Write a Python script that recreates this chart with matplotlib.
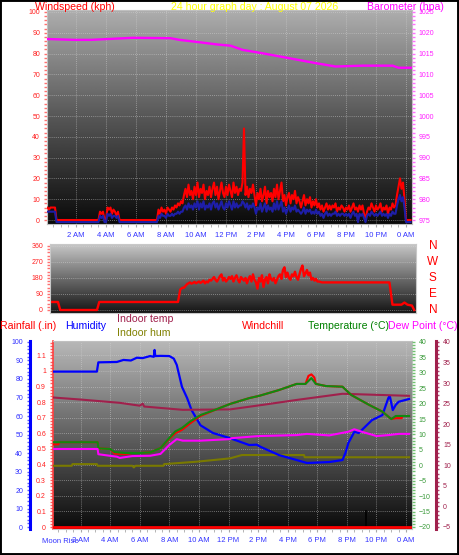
import matplotlib
matplotlib.use('Agg')
import matplotlib.pyplot as plt
import numpy as np
from matplotlib.patches import Rectangle
from matplotlib.ticker import MultipleLocator, FuncFormatter
from matplotlib.transforms import blended_transform_factory

plt.rcParams['font.family'] = ['Liberation Sans', 'DejaVu Sans']

W, H = 459, 555

# ---------------- data ----------------
hour_ticks = [2, 4, 6, 8, 10, 12, 14, 16, 18, 20, 22, 24]
hour_labels = ['2 AM', '4 AM', '6 AM', '8 AM', '10 AM', '12 PM',
               '2 PM', '4 PM', '6 PM', '8 PM', '10 PM', '0 AM']

# wind samples every 6 minutes (0.0 .. 24.3 h)
wind_hours = np.round(np.arange(0, 24.35, 0.1), 1)
wind_gust = [
    6, 6, 5, 6, 6, 6, 6, 0, 0, 0,
    0, 0, 0, 0, 0, 0, 0, 0, 0, 0,
    0, 0, 0, 0, 0, 0, 0, 0, 0, 0,
    0, 0, 0, 0, 0, 0, 4, 3, 4, 0,
    0, 6, 5, 6, 3, 5, 4, 2, 4, 0,
    0, 0, 0, 0, 0, 0, 0, 0, 0, 0,
    0, 0, 0, 0, 0, 0, 0, 0, 0, 0,
    0, 0, 0, 0, 0, 5, 3, 6, 4, 5,
    3, 6, 5, 4, 6, 5, 7, 6, 8, 7,
    9, 8, 12, 15, 11, 17, 12, 14, 10, 16,
    12, 18, 11, 15, 13, 17, 10, 14, 12, 16,
    11, 15, 18, 12, 16, 10, 14, 18, 13, 11,
    16, 12, 17, 14, 11, 18, 13, 16, 12, 15,
    14, 18, 44, 12, 16, 11, 15, 13, 17, 12,
    7, 13, 10, 15, 9, 12, 16, 8, 14, 11,
    13, 9, 15, 11, 17, 10, 14, 18, 9, 12,
    7, 11, 13, 8, 12, 10, 14, 8, 11, 9,
    6, 9, 12, 7, 10, 8, 11, 6, 9, 7,
    10, 6, 8, 5, 7, 4, 6, 8, 5, 7,
    5, 7, 6, 8, 4, 6, 5, 7, 6, 4,
    6, 5, 7, 4, 6, 8, 5, 6, 4, 7,
    5, 7, 3, 0, 4, 6, 5, 8, 6, 4,
    7, 5, 6, 8, 4, 6, 5, 7, 3, 6,
    5, 8, 6, 7, 12, 16, 20, 15, 18, 10,
    0, 0, 0, 0,
]
wind_avg = [
    4, 4, 4, 4, 4, 4, 4, -1, -1, -1,
    -1, -1, -1, -1, -1, -1, -1, -1, -1, -1,
    -1, -1, -1, -1, -1, -1, -1, -1, -1, -1,
    -1, -1, -1, -1, -1, -1, 2, 1, 2, -1,
    -1, 3, 2, 3, 1, 2, 2, 1, 2, -1,
    -1, -1, -1, -1, -1, -1, -1, -1, -1, -1,
    -1, -1, -1, -1, -1, -1, -1, -1, -1, -1,
    -1, -1, -1, -1, -1, 2, 1, 3, 2, 2,
    1, 3, 2, 2, 3, 2, 3, 3, 4, 3,
    4, 4, 6, 7, 5, 8, 6, 7, 5, 8,
    6, 9, 5, 8, 6, 9, 5, 7, 6, 8,
    5, 8, 9, 6, 8, 5, 7, 9, 6, 5,
    8, 6, 9, 7, 5, 9, 6, 8, 6, 7,
    7, 9, 8, 6, 8, 5, 7, 6, 8, 6,
    3, 6, 5, 8, 4, 6, 8, 4, 7, 5,
    6, 4, 8, 5, 9, 5, 7, 9, 4, 6,
    3, 5, 7, 4, 6, 5, 7, 4, 5, 4,
    3, 4, 6, 3, 5, 4, 5, 3, 4, 3,
    5, 3, 4, 2, 3, 1, 3, 4, 2, 3,
    2, 3, 3, 4, 2, 3, 2, 3, 3, 2,
    3, 2, 3, 1, 3, 4, 2, 3, -1, 3,
    2, 3, 1, -1, 2, 3, 2, 4, 3, 2,
    3, 2, 3, 4, 2, 3, 2, 3, 1, 3,
    2, 4, 3, 3, 7, 10, 12, 9, 11, 6,
    -1, -1, -1, -1,
]

baro_hours = [0.1, 1.9, 3.0, 5.8, 8.3, 8.9, 10.3, 11.4, 12.3, 13.1, 14.4,
              16.2, 18.0, 19.3, 21.1, 23.1, 23.5, 24.4]
baro_hpa = [1018.5, 1018.3, 1018.3, 1018.8, 1018.7, 1018.3, 1017.7, 1017.2,
            1016.9, 1015.9, 1015.1, 1013.9, 1012.7, 1011.9, 1012.1, 1012.1,
            1011.6, 1011.6]

dir_hours = ([0.07, 0.6, 0.75, 3.2, 3.35, 8.6, 8.75, 8.9]
             + list(np.round(np.arange(9.0, 17.95, 0.1), 1))
             + [18.0, 18.2, 22.7, 22.9, 23.5, 23.7, 23.9, 24.2, 24.35])
dir_deg = ([45, 45, 0, 0, 45, 45, 115, 125]
           + [125, 135, 145, 150, 155, 148, 152, 158, 150, 155,
              160, 152, 158, 165, 150, 160, 155, 170, 165, 175,
              185, 170, 160, 175, 190, 200, 165, 180, 160, 170,
              185, 175, 190, 160, 180, 195, 170, 155, 185, 175,
              165, 180, 150, 175, 190, 160, 200, 170, 155, 120,
              180, 160, 195, 130, 170, 185, 150, 200, 175, 165,
              180, 150, 170, 190, 200, 175, 225, 240, 185, 210,
              180, 170, 200, 190, 215, 185, 170, 200, 230, 250,
              190, 205, 225, 195, 210, 170, 180, 165, 175, 160]
           + [160, 155, 155, 30, 30, 42, 30, 25, 0])

hum_hours = [0.13, 3.1, 3.2, 4.45, 4.9, 5.4, 5.8, 6.2, 6.7, 6.95, 7.0, 7.05,
             7.4, 8.0, 8.3, 8.5, 8.85, 9.2, 9.5, 10.1, 10.95, 12.1, 13.4,
             13.9, 14.2, 15.4, 16.6, 17.3, 18.8, 19.7, 19.9, 20.1, 20.5,
             20.8, 21.7, 22.4, 22.8, 22.9, 23.1, 23.3, 23.5, 24.2]
humidity = [84, 84, 89, 89.2, 90.3, 90, 91.5, 91.3, 92.4, 92, 95.7, 92.4,
            92.5, 92.4, 91, 87.6, 75.8, 69.7, 63.2, 55, 50.8, 48, 44.3,
            44.5, 43.2, 38.9, 36.2, 34.6, 35.1, 36.2, 40, 45.4, 51.4,
            50.8, 57.8, 60.5, 69.7, 70.8, 63.2, 66, 67.7, 69.2]

temp_hours = [0.13, 3.15, 3.2, 4.0, 4.3, 5.0, 6.0, 6.7, 7.4, 8.0, 8.4, 8.85,
              9.4, 10.1, 11.2, 12.1, 13.4, 14.05, 15.4, 16.6, 17.2, 17.6,
              17.9, 18.6, 19.7, 20.3, 21.5, 22.4, 23.0, 23.3, 24.2]
temperature = [7.5, 7.5, 5.5, 5.3, 4.3, 4.0, 4.0, 4.2, 5.6, 8.9, 11.0, 12.1,
               14.2, 16.3, 18.2, 19.9, 21.8, 22.5, 24.4, 26.4, 26.4, 28.3,
               26.4, 25.7, 25.5, 22.8, 19.6, 17.4, 15.0, 16.0, 16.0]

chill_hours = [0.13, 0.5, 0.55, 3.15, 3.2, 4.0, 4.3, 5.0, 5.5, 6.0, 6.7, 7.4,
               8.0, 8.4, 8.85, 9.4, 10.1, 11.2, 12.1, 13.4, 14.05, 15.4,
               16.6, 17.2, 17.4, 17.6, 17.8, 17.9, 18.6, 19.7, 20.3, 21.5,
               22.4, 23.0, 23.3, 23.7, 23.75, 24.2]
windchill = [6.8, 6.8, 7.5, 7.5, 5.5, 5.3, 3.8, 3.6, 4.0, 4.0, 4.2, 5.6,
             8.6, 10.4, 11.5, 13.6, 16.0, 18.2, 19.9, 21.8, 22.5, 24.4,
             26.4, 26.4, 29.0, 29.5, 28.5, 26.4, 25.7, 25.5, 22.8, 19.6,
             17.4, 15.0, 15.3, 15.3, 16.0, 16.0]

dew_hours = [0.13, 3.15, 3.2, 4.45, 4.65, 5.5, 6.7, 7.4, 8.0, 8.5, 8.9, 10.1,
             12.1, 12.2, 14.05, 16.6, 17.3, 18.8, 20.1, 20.5, 21.0, 22.0,
             22.8, 23.5, 24.2]
dew_point = [5.3, 5.3, 3.6, 2.8, 2.4, 3.0, 3.1, 3.7, 6.6, 8.5, 8.0, 8.0,
             8.5, 8.8, 9.5, 9.8, 10.2, 9.7, 10.9, 11.7, 10.9, 9.5,
             9.8, 10.2, 10.2]

in_temp_hours = [0.13, 2.0, 4.65, 6.0, 6.2, 6.3, 8.9, 12.1, 14.3, 16.6, 19.7, 24.2]
indoor_temp = [26.5, 26.0, 25.2, 24.5, 25.0, 24.3, 23.5, 23.6, 24.7, 25.9, 27.4, 26.9]

in_hum_hours = [0.13, 1.4, 1.45, 3.1, 3.15, 5.5, 5.6, 5.7, 7.6, 7.65, 9.85,
                12.1, 12.9, 17.1, 17.15, 24.2]
indoor_hum = [33.1, 33.1, 34.0, 34.0, 33.1, 33.1, 32.2, 33.1, 33.1, 34.0,
              35.3, 37.1, 38.9, 38.9, 37.7, 37.7]

rain_hours = [0.13, 24.3]
rainfall = [0.0, 0.0]

moon_rise_hour = 0.6
moon_mark_hour = 21.3

# ---------------- helpers ----------------
fig = plt.figure(figsize=(W / 100, H / 100), dpi=100)
fig.patch.set_facecolor('white')


def box(l, t, r, b):
    return [l / W, 1 - b / H, (r - l) / W, (b - t) / H]


def gradient(ax, top, mid, bottom):
    g = np.interp(np.linspace(0, 1, 300), [0, 0.5, 1], [top, mid, bottom])[:, None]
    ax.imshow(g, extent=[0, 1, 0, 1], transform=ax.transAxes, aspect='auto',
              cmap='gray', vmin=0, vmax=1, zorder=0, interpolation='bilinear')


def figtext(x, y, s, color, size=7.6, ha='left'):
    fig.text(x / W, 1 - y / H, s, color=color, fontsize=size, ha=ha, va='center')


GRID = dict(color='#d8d8d8', ls=(0, (1, 1.5)), lw=0.6, alpha=0.6)
TL = 5.0  # tick label size

# ---------------- titles ----------------
figtext(35, 7.5, 'Windspeed (kph)', '#ff0000')
figtext(171, 7.5, '24 hour graph day : August 07 2026', '#ffff00')
figtext(367, 7.5, 'Barometer (hpa)', '#ff00ff')

# ---------------- panel 1: wind / barometer ----------------
ax1 = fig.add_axes(box(47, 10, 412, 224))
gradient(ax1, 0.68, 0.34, 0.04)
ax1.plot(wind_hours, wind_gust, color='#ff0000', lw=1.5, zorder=3)
ax1.plot(wind_hours, wind_avg, color='#1e1ea8', lw=1.5, zorder=4)
ax1.set_xlim(0.067, 24.4)
ax1.set_ylim(-1.92, 100.96)
ax1.yaxis.set_major_locator(MultipleLocator(10))
ax1.yaxis.set_minor_locator(MultipleLocator(2))
ax1.tick_params(axis='y', which='both', colors='#ff7070', labelcolor='#ff2020',
                labelsize=TL, length=2.5, width=1, pad=2.5)
ax1.set_xticks(hour_ticks, hour_labels)
ax1.xaxis.set_minor_locator(MultipleLocator(0.5))
ax1.tick_params(axis='x', which='both', colors='#a8a8a8', labelcolor='#3434ff',
                labelsize=5.5, length=2.5, pad=3)
ax1.grid(True, which='major', **GRID)
for s in ax1.spines.values():
    s.set_color('#c0c0c0')
    s.set_linewidth(0.8)

ax1b = ax1.twinx()
ax1b.plot(baro_hours, baro_hpa, color='#ff00ff', lw=1.7)
ax1b.set_ylim(974.04, 1025.48)
ax1b.yaxis.set_major_locator(MultipleLocator(5))
ax1b.yaxis.set_minor_locator(MultipleLocator(1))
ax1b.tick_params(axis='y', which='both', colors='#ff70ff', labelcolor='#ff20ff',
                 labelsize=TL, length=2.5, width=1, pad=2.5)
for s in ax1b.spines.values():
    s.set_visible(False)

# ---------------- panel 2: wind direction ----------------
ax2 = fig.add_axes(box(50, 244, 416, 313))
gradient(ax2, 0.78, 0.42, 0.08)
ax2.plot(dir_hours, dir_deg, color='#ff0000', lw=1.7)
ax2.set_xlim(0.067, 24.47)
ax2.set_ylim(-16.9, 371)
ax2.set_xticks([])
ax2.set_yticks([0, 90, 180, 270, 360])
ax2.yaxis.set_minor_locator(MultipleLocator(18))
ax2.tick_params(axis='y', which='both', colors='#ff7070', labelcolor='#ff2020',
                labelsize=TL, length=2.5, width=1, pad=2.5)
ax2.yaxis.grid(True, **GRID)
for s in ax2.spines.values():
    s.set_color('#c8c8c8')
    s.set_linewidth(0.8)
tr2 = blended_transform_factory(ax2.transAxes, ax2.transData)
for lab, val in zip(['N', 'W', 'S', 'E', 'N'], [360, 270, 180, 90, 0]):
    ax2.text(1.046, val, lab, transform=tr2, color='#ff0000', fontsize=8.5,
             ha='center', va='center')

# ---------------- panel 3 titles ----------------
figtext(0, 326, 'Rainfall (.in)', '#ff0000')
figtext(65, 326, 'Humidity', '#0000ff')
figtext(117, 319.5, 'Indoor temp', '#a0204c')
figtext(117, 332.5, 'Indoor hum', '#808000')
figtext(242, 326, 'Windchill', '#ff0000')
figtext(308, 326, 'Temperature (\u00b0C)', '#008000')
figtext(388, 326, 'Dew Point (\u00b0C)', '#ff00ff')

# ---------------- panel 3: rain axis (main) ----------------
ax3 = fig.add_axes(box(53, 341, 412, 529))
gradient(ax3, 0.72, 0.38, 0.04)
ax3.set_xlim(0.135, 24.4)
ax3.set_ylim(-0.0128, 1.192)
ax3.yaxis.set_major_locator(MultipleLocator(0.1))
ax3.yaxis.set_minor_locator(MultipleLocator(0.02))
ax3.yaxis.set_major_formatter(FuncFormatter(lambda v, p: f'{round(v, 2):g}'))
ax3.tick_params(axis='y', which='both', colors='#ff6060', labelcolor='#ff2020',
                labelsize=TL, length=2.5, width=1, pad=2.5)
ax3.set_xticks(hour_ticks, hour_labels)
ax3.xaxis.set_minor_locator(MultipleLocator(0.5))
ax3.tick_params(axis='x', which='both', colors='#a8a8a8', labelcolor='#3434ff',
                labelsize=5.5, length=2.5, pad=3)
ax3.grid(True, which='major', **GRID)
for s in ax3.spines.values():
    s.set_color('#c0c0c0')
    s.set_linewidth(0.8)
ax3.spines['left'].set_color('#ff4040')
ax3.spines['left'].set_linestyle((0, (1, 1)))
ax3.spines['left'].set_linewidth(1.2)
tr3 = blended_transform_factory(ax3.transData, ax3.transAxes)
ax3.text(moon_rise_hour, -0.068, 'Moon Rise', transform=tr3, color='#3434ff',
         fontsize=5.5, ha='center', va='center')
ax3.plot([moon_mark_hour, moon_mark_hour], [0, 0.1], color='black', lw=1.2, zorder=5)

# humidity axis (outer left)
ax3h = ax3.twinx()
ax3h.plot(in_hum_hours, indoor_hum, color='#7a7a00', lw=1.5)
ax3h.plot(hum_hours, humidity, color='#0000ff', lw=1.6)
ax3h.set_ylim(-1.08, 100.54)
ax3h.yaxis.set_ticks_position('left')
ax3h.yaxis.set_major_locator(MultipleLocator(10))
ax3h.yaxis.set_minor_locator(MultipleLocator(2))
ax3h.tick_params(axis='y', which='both', colors='#5858ff', labelcolor='#3030ff',
                 labelsize=TL, length=2.5, width=1, pad=2.5)
for s in ax3h.spines.values():
    s.set_visible(False)
ax3h.spines['left'].set_visible(True)
ax3h.spines['left'].set_position(('outward', 16.6))
ax3h.spines['left'].set_color('#0000ff')
ax3h.spines['left'].set_linewidth(2.2)

# indoor temperature axis (outer right)
ax3i = ax3.twinx()
ax3i.plot(in_temp_hours, indoor_temp, color='#a0204c', lw=1.5)
ax3i.set_ylim(-5.49, 40.24)
ax3i.yaxis.set_major_locator(MultipleLocator(5))
ax3i.yaxis.set_minor_locator(MultipleLocator(1))
ax3i.tick_params(axis='y', which='both', colors='#b04070', labelcolor='#a0204c',
                 labelsize=TL, length=2.5, width=1, pad=2.5)
for s in ax3i.spines.values():
    s.set_visible(False)
ax3i.spines['right'].set_visible(True)
ax3i.spines['right'].set_position(('outward', 17.3))
ax3i.spines['right'].set_color('#a0204c')
ax3i.spines['right'].set_linewidth(2.2)

# temperature axis (inner right)
ax3t = ax3.twinx()
ax3t.plot(chill_hours, windchill, color='#ff0000', lw=1.5)
ax3t.plot(temp_hours, temperature, color='#108a10', lw=1.5)
ax3t.plot(dew_hours, dew_point, color='#ff00ff', lw=1.5)
ax3t.set_ylim(-20.65, 40.32)
ax3t.yaxis.set_major_locator(MultipleLocator(5))
ax3t.yaxis.set_minor_locator(MultipleLocator(1))
ax3t.tick_params(axis='y', which='both', colors='#70c070', labelcolor='#3a9a3a',
                 labelsize=TL, length=2.5, width=1, pad=2.5)
for s in ax3t.spines.values():
    s.set_visible(False)

# rainfall drawn last so it sits on top
ax3r = ax3.twinx()
ax3r.plot(rain_hours, rainfall, color='#ff0000', lw=2)
ax3r.set_ylim(-0.0128, 1.192)
ax3r.set_yticks([])
for s in ax3r.spines.values():
    s.set_visible(False)

# outer frame
fig.add_artist(Rectangle((0, 0), 1, 1, transform=fig.transFigure, fill=False,
                         ec='black', lw=2.8))

fig.savefig('out.png', dpi=100, facecolor='white')
